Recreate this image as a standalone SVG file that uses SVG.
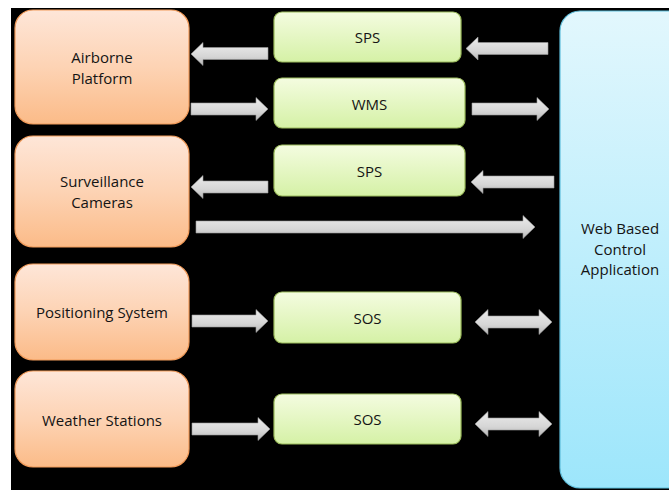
<svg xmlns="http://www.w3.org/2000/svg" width="669" height="490" viewBox="0 0 669 490">
  <defs>
    <linearGradient id="gOrange" x1="0" y1="0" x2="0" y2="1">
      <stop offset="0" stop-color="#fee6d8"/>
      <stop offset="0.5" stop-color="#fdd3b4"/>
      <stop offset="1" stop-color="#fbbb88"/>
    </linearGradient>
    <linearGradient id="gGreen" x1="0" y1="0" x2="0" y2="1">
      <stop offset="0" stop-color="#f4fce0"/>
      <stop offset="1" stop-color="#d5f1a6"/>
    </linearGradient>
    <linearGradient id="gBlue" x1="0" y1="0" x2="0" y2="1">
      <stop offset="0" stop-color="#e2f7fd"/>
      <stop offset="1" stop-color="#9de6fb"/>
    </linearGradient>
    <linearGradient id="gArrow" x1="0" y1="0" x2="0" y2="1">
      <stop offset="0" stop-color="#ececec"/>
      <stop offset="0.6" stop-color="#d6d6d6"/>
      <stop offset="1" stop-color="#b8b8b8"/>
    </linearGradient>
    <style>
      .src { fill: url(#gOrange); stroke: #f29b5a; stroke-width: 1.2; }
      .svc { fill: url(#gGreen); stroke: #9cbc5c; stroke-width: 1.2; }
      .app { fill: url(#gBlue); stroke: #5fbfdc; stroke-width: 1.2; }
      .lbl { font-family: "Open Sans", "Liberation Sans", sans-serif; font-size: 15px; fill: #141414; text-anchor: middle; }
      .arr { fill: url(#gArrow); stroke: #9a9a9a; stroke-width: 0.6; }
    </style>
  </defs>

  <rect x="0" y="0" width="669" height="490" fill="#ffffff"/>
  <rect x="11" y="8" width="658" height="482" fill="#000000"/>

  <!-- data sources -->
  <g id="airborne">
    <rect class="src" x="15" y="10" width="174" height="114" rx="18"/>
    <text class="lbl" x="102" y="63">Airborne</text>
    <text class="lbl" x="102" y="84">Platform</text>
  </g>
  <g id="cameras">
    <rect class="src" x="15" y="136" width="174" height="111" rx="18"/>
    <text class="lbl" x="102" y="187">Surveillance</text>
    <text class="lbl" x="102" y="208">Cameras</text>
  </g>
  <g id="positioning">
    <rect class="src" x="15" y="264" width="174" height="96" rx="18"/>
    <text class="lbl" x="102" y="318">Positioning System</text>
  </g>
  <g id="weather">
    <rect class="src" x="15" y="371" width="174" height="96" rx="18"/>
    <text class="lbl" x="102" y="426">Weather Stations</text>
  </g>

  <!-- services -->
  <g id="sps1">
    <rect class="svc" x="274" y="12" width="187" height="50" rx="8"/>
    <text class="lbl" x="367.5" y="43">SPS</text>
  </g>
  <g id="wms">
    <rect class="svc" x="274" y="78" width="191" height="50" rx="8"/>
    <text class="lbl" x="369.5" y="110">WMS</text>
  </g>
  <g id="sps2">
    <rect class="svc" x="274" y="145" width="191" height="51" rx="8"/>
    <text class="lbl" x="369.5" y="177">SPS</text>
  </g>
  <g id="sos1">
    <rect class="svc" x="274" y="292" width="187" height="51" rx="8"/>
    <text class="lbl" x="367.5" y="324">SOS</text>
  </g>
  <g id="sos2">
    <rect class="svc" x="274" y="394" width="187" height="50" rx="8"/>
    <text class="lbl" x="367.5" y="425">SOS</text>
  </g>

  <!-- control application -->
  <g id="webapp">
    <rect class="app" x="560" y="11" width="130" height="477" rx="20"/>
    <text class="lbl" x="620" y="234">Web Based</text>
    <text class="lbl" x="620" y="255">Control</text>
    <text class="lbl" x="620" y="275">Application</text>
  </g>

  <!-- connectors -->
  <g id="connectors">
    <!-- SPS -> Airborne -->
    <path class="arr" d="M268,47.5 H203 V42.5 L191,54 L203,65.5 V59.5 H268 Z"/>
    <!-- Airborne -> WMS -->
    <path class="arr" d="M191,103 H256 V97.5 L268,109 L256,120.5 V115 H191 Z"/>
    <!-- App -> SPS -->
    <path class="arr" d="M548,42.5 H478 V37 L466,48.5 L478,60 V54.5 H548 Z"/>
    <!-- WMS -> App -->
    <path class="arr" d="M472,103 H537 V97.5 L549,109 L537,120.5 V115 H472 Z"/>
    <!-- SPS -> Cameras -->
    <path class="arr" d="M268,181 H203 V175.5 L191,187 L203,198.5 V193 H268 Z"/>
    <!-- App -> SPS -->
    <path class="arr" d="M554,176 H483 V170.5 L471,182 L483,193.5 V188 H554 Z"/>
    <!-- Cameras -> App -->
    <path class="arr" d="M196,221 H523 V215.5 L535,227 L523,238.5 V233 H196 Z"/>
    <!-- Positioning -> SOS -->
    <path class="arr" d="M192,315 H256 V309.5 L268,321 L256,332.5 V327 H192 Z"/>
    <!-- Weather -> SOS -->
    <path class="arr" d="M192,423 H258 V417.5 L270,429 L258,440.5 V435 H192 Z"/>
    <!-- SOS <-> App -->
    <path class="arr" d="M475,322 L488,309.5 V316 H539 V309.5 L552,322 L539,334.5 V328 H488 V334.5 Z"/>
    <path class="arr" d="M475,424 L488,411.5 V418 H539 V411.5 L552,424 L539,436.5 V430 H488 V436.5 Z"/>
  </g>
</svg>
